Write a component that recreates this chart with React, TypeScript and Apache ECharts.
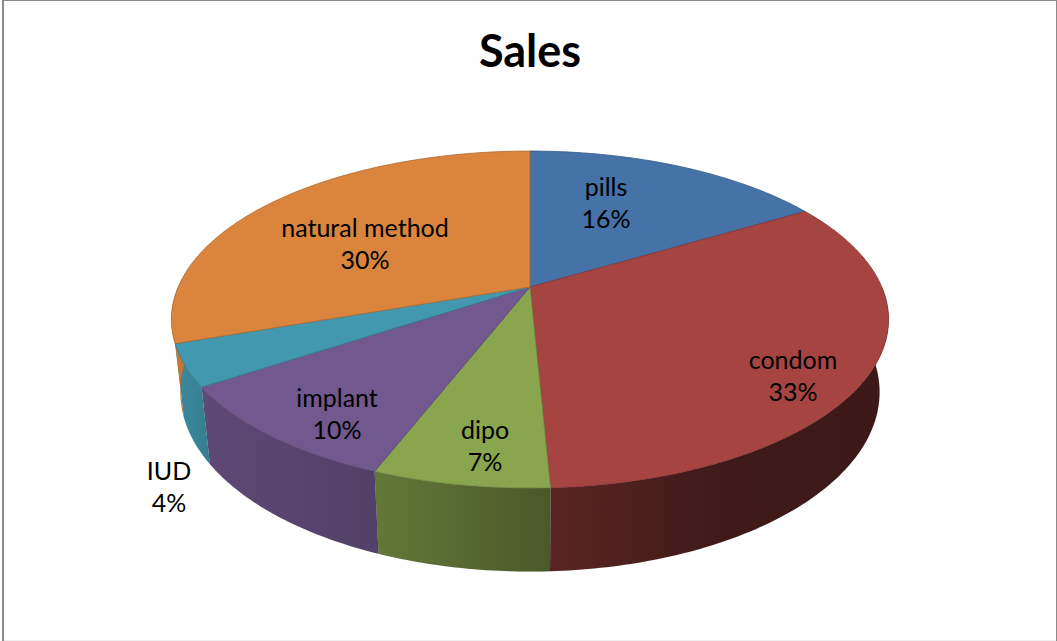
import React, { useEffect, useRef } from "react";
import * as echarts from "echarts";

const categories = ["pills", "condom", "dipo", "implant", "IUD", "natural method"];
const salesValues = [16.45, 32.8, 6.65, 9.8, 4.0, 30.3];
const sliceColors = ["#4572A7", "#A64442", "#89A54E", "#71588F", "#4198AF", "#DB843D"];
const labelCenters = [
  [606, 202],
  [793, 375],
  [485, 445],
  [337, 413],
  [169, 486],
  [365, 243],
];

// projection of the tilted disc
const CX = 530;
const APEX_Y = 287;
const RX = 351.8;
const RY = 162.2;
const PERSPECTIVE = 0.193;
const BOTTOM_X_SCALE = 0.975;
const BOTTOM_Y = 357.4;
const BOTTOM_RY = 172.8;

const total = salesValues.reduce((a, b) => a + b, 0);
const sliceRange = (i: number) => {
  const before = salesValues.slice(0, i).reduce((a, b) => a + b, 0);
  return [
    (before / total) * Math.PI * 2,
    ((before + salesValues[i]) / total) * Math.PI * 2,
  ];
};
const project = (t: number) => {
  const u = Math.sin(t);
  const v = -Math.cos(t);
  const w = 1 - PERSPECTIVE * v;
  return { a: u / w, b: v / w, v };
};
const topPoint = (t: number) => {
  const p = project(t);
  return [CX + RX * p.a, APEX_Y + RY * p.b];
};
const bottomPoint = (t: number) => {
  const p = project(t);
  return [CX + BOTTOM_X_SCALE * RX * p.a, BOTTOM_Y + BOTTOM_RY * p.b];
};

const GRAD_X0 = 170;
const GRAD_X1 = 900;
const shadeStops = [
  [170, 0.92],
  [212, 0.82],
  [375, 0.73],
  [550, 0.54],
  [720, 0.38],
  [900, 0.36],
];
const shade = (hex: string, f: number) => {
  const n = parseInt(hex.slice(1), 16);
  const c = [(n >> 16) & 255, (n >> 8) & 255, n & 255].map((x) => Math.round(x * f));
  return `rgb(${c[0]},${c[1]},${c[2]})`;
};

const renderSide = (params: any) => {
  const i = params.dataIndex;
  const [a0, a1] = sliceRange(i);
  const steps = Math.ceil((a1 - a0) / 0.015);
  const angles: number[] = [];
  for (let s = 0; s <= steps; s++) {
    const t = a0 + ((a1 - a0) * s) / steps;
    if (-Math.cos(t) >= 0) angles.push(t);
  }
  if (angles.length < 2) return { type: "group", children: [] };
  const pts = [...angles.map(topPoint), ...angles.slice().reverse().map(bottomPoint)];
  return {
    type: "polygon",
    shape: { points: pts },
    style: {
      fill: {
        type: "linear",
        x: GRAD_X0,
        y: 0,
        x2: GRAD_X1,
        y2: 0,
        global: true,
        colorStops: shadeStops.map(([x, f]) => ({
          offset: (x - GRAD_X0) / (GRAD_X1 - GRAD_X0),
          color: shade(sliceColors[i], f),
        })),
      },
      stroke: "rgba(0,0,0,0.08)",
      lineWidth: 0.6,
    },
  };
};

const renderTop = (params: any, api: any) => {
  const i = params.dataIndex;
  const [a0, a1] = sliceRange(i);
  const steps = Math.ceil((a1 - a0) / 0.015);
  const pts: number[][] = [[CX, APEX_Y]];
  for (let s = 0; s <= steps; s++) pts.push(topPoint(a0 + ((a1 - a0) * s) / steps));
  const pct = Math.round((api.value(0) / total) * 100);
  return {
    type: "group",
    children: [
      {
        type: "polygon",
        shape: { points: pts },
        style: { fill: sliceColors[i], stroke: shade(sliceColors[i], 0.8), lineWidth: 0.8 },
      },
      {
        type: "text",
        x: labelCenters[i][0],
        y: labelCenters[i][1],
        z2: 10,
        style: {
          text: `${categories[i]}\n${pct}%`,
          align: "center",
          verticalAlign: "middle",
          fontFamily: "Lato",
          fontSize: 25,
          lineHeight: 32,
          fill: "#000",
        },
      },
    ],
  };
};

export default function App() {
  const ref = useRef<HTMLDivElement>(null);
  useEffect(() => {
    const chart = echarts.init(ref.current!, null, { renderer: "svg" });
    const seriesData = salesValues.map((v, i) => ({ name: categories[i], value: [v] }));
    chart.setOption({
      animation: false,
      backgroundColor: "#fff",
      title: {
        text: "Sales",
        left: 525,
        top: 22,
        textAlign: "center",
        textStyle: { fontFamily: "Lato", fontSize: 45, fontWeight: "bold", color: "#000" },
      },
      graphic: [
        { type: "rect", silent: true, shape: { x: 2, y: 0, width: 2, height: 641 }, style: { fill: "#8a8a8a" } },
        { type: "rect", silent: true, shape: { x: 2, y: 0, width: 1054, height: 1 }, style: { fill: "#8a8a8a" } },
        { type: "rect", silent: true, shape: { x: 1056, y: 0, width: 1, height: 641 }, style: { fill: "#8a8a8a" } },
        { type: "rect", silent: true, shape: { x: 4, y: 640, width: 1052, height: 1 }, style: { fill: "#eeeeee" } },
      ],
      series: [
        { type: "custom", coordinateSystem: "none", silent: true, z: 1, renderItem: renderSide, data: seriesData },
        { type: "custom", coordinateSystem: "none", silent: true, z: 2, renderItem: renderTop, data: seriesData },
      ],
    });
    return () => chart.dispose();
  }, []);
  return <div ref={ref} style={{ position: "fixed", left: 0, top: 0, width: 1057, height: 641 }} />;
}
